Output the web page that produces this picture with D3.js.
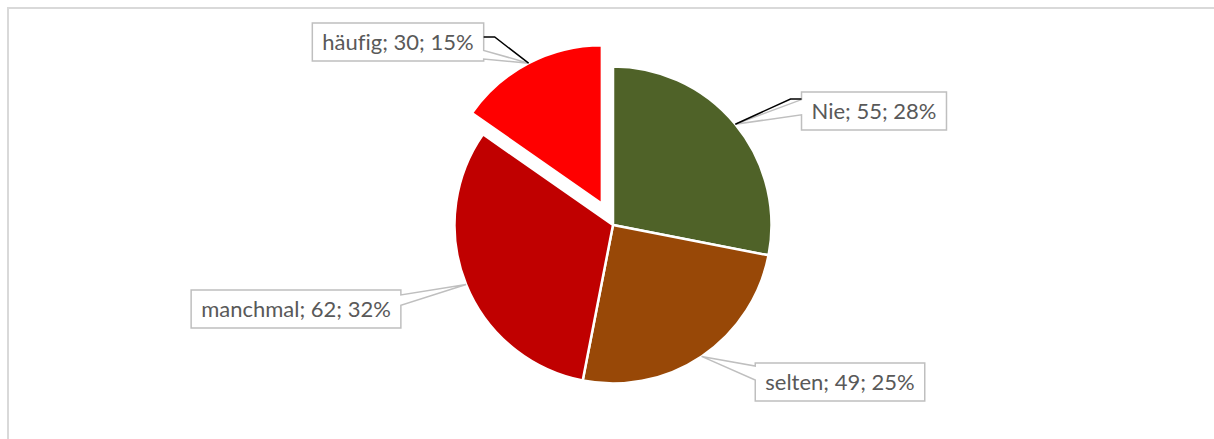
<!DOCTYPE html>
<html>
<head>
<meta charset="utf-8">
<script src="https://cdn.jsdelivr.net/npm/d3@7"></script>
<style>
  body { margin: 0; background: #fff; }
  svg { display: block; }
  text { font-variant-ligatures: none; }
</style>
</head>
<body>
<script>
(function() {
  'use strict';

  // data
  const categories = ['Nie', 'selten', 'manchmal', 'häufig'];
  const values = [55, 49, 62, 30];
  const exploded = ['häufig'];

  const colors = ['#4f6228', '#984807', '#c00000', '#ff0000'];

  // where each callout box sits, which side the wedge leaves from
  const labelLayout = {
    'Nie':      {cx: 874, cy: 111, side: 'left',  wedge: [0.2, 0.6],   leader: 7},
    'selten':   {cx: 840, cy: 382, side: 'left',  wedge: [0.08, 0.45]},
    'manchmal': {cx: 296, cy: 309, side: 'right', wedge: [0.13, 0.4]},
    'häufig':   {cx: 398, cy: 42,  side: 'right', wedge: [0.72, 0.95], leader: 14}
  };

  const w = 1214;
  const h = 439;
  const cx = 613;
  const cy = 225;
  const radius = 158.5;
  const explodeDist = 24;
  const boxH = 38;
  const padX = 10;

  const total = d3.sum(values);
  const rows = categories.map((c, i) => ({name: c, value: values[i], color: colors[i]}));

  const svg = d3.select('body')
    .append('svg')
    .attr('width', w)
    .attr('height', h);

  // chart area border (runs off right and bottom)
  svg.append('rect')
    .attr('x', 8)
    .attr('y', 8)
    .attr('width', w + 20)
    .attr('height', h + 20)
    .attr('fill', 'none')
    .attr('stroke', '#d9d9d9')
    .attr('stroke-width', 2);

  const pie = d3.pie()
    .sort(null)
    .value(d => d.value);

  const arcs = pie(rows);

  const arc = d3.arc()
    .innerRadius(0)
    .outerRadius(radius);

  const edgeArc = d3.arc()
    .innerRadius(radius)
    .outerRadius(radius);

  function offset(d) {
    if (exploded.indexOf(d.data.name) < 0) return [0, 0];
    const mid = (d.startAngle + d.endAngle) / 2;
    return [explodeDist * Math.sin(mid), -explodeDist * Math.cos(mid)];
  }

  const g = svg.append('g')
    .attr('transform', 'translate(' + cx + ',' + cy + ')');

  g.selectAll('path.slice')
    .data(arcs)
    .enter()
    .append('path')
    .attr('class', 'slice')
    .attr('d', arc)
    .attr('transform', d => 'translate(' + offset(d).join(',') + ')')
    .attr('fill', d => d.data.color)
    .attr('stroke', '#fff')
    .attr('stroke-width', 2.5)
    .attr('stroke-linejoin', 'round');

  // data labels with callout boxes
  const labels = svg.append('g');

  arcs.forEach(function(d) {
    const lay = labelLayout[d.data.name];
    const pct = Math.round(d.data.value / total * 100);
    const text = d.data.name + '; ' + d.data.value + '; ' + pct + '%';

    const lg = labels.append('g');
    const callout = lg.append('path');
    const leader = lg.append('path');

    const t = lg.append('text')
      .attr('x', lay.cx)
      .attr('y', lay.cy)
      .attr('dy', '0.36em')
      .attr('text-anchor', 'middle')
      .attr('font-family', 'Lato, "Open Sans", sans-serif')
      .attr('font-size', 22)
      .attr('fill', '#595959')
      .text(text);

    const tw = t.node().getComputedTextLength();
    const bw = tw + 2 * padX;
    const l = lay.cx - bw / 2;
    const r = lay.cx + bw / 2;
    const top = lay.cy - boxH / 2;
    const b = lay.cy + boxH / 2;

    const c = edgeArc.centroid(d);
    const o = offset(d);
    const ax = cx + c[0] + o[0];
    const ay = cy + c[1] + o[1];

    const y1 = top + lay.wedge[0] * boxH;
    const y2 = top + lay.wedge[1] * boxH;

    let p;
    if (lay.side === 'left') {
      p = 'M' + l + ',' + top + 'L' + r + ',' + top + 'L' + r + ',' + b + 'L' + l + ',' + b +
        'L' + l + ',' + y2 + 'L' + ax + ',' + ay + 'L' + l + ',' + y1 + 'Z';
    } else {
      p = 'M' + l + ',' + top + 'L' + r + ',' + top + 'L' + r + ',' + y1 + 'L' + ax + ',' + ay +
        'L' + r + ',' + y2 + 'L' + r + ',' + b + 'L' + l + ',' + b + 'Z';
    }

    callout
      .attr('d', p)
      .attr('fill', '#fff')
      .attr('stroke', '#bfbfbf')
      .attr('stroke-width', 1.5);

    if (lay.leader !== undefined) {
      const ly = top + lay.leader;
      const ex = lay.side === 'left' ? l : r;
      const kx = lay.side === 'left' ? l - 11 : r + 11;
      leader
        .attr('d', 'M' + ax + ',' + ay + 'L' + kx + ',' + ly + 'L' + ex + ',' + ly)
        .attr('fill', 'none')
        .attr('stroke', '#000')
        .attr('stroke-width', 1.5);
    } else {
      leader.remove();
    }
  });
}());
</script>
</body>
</html>
